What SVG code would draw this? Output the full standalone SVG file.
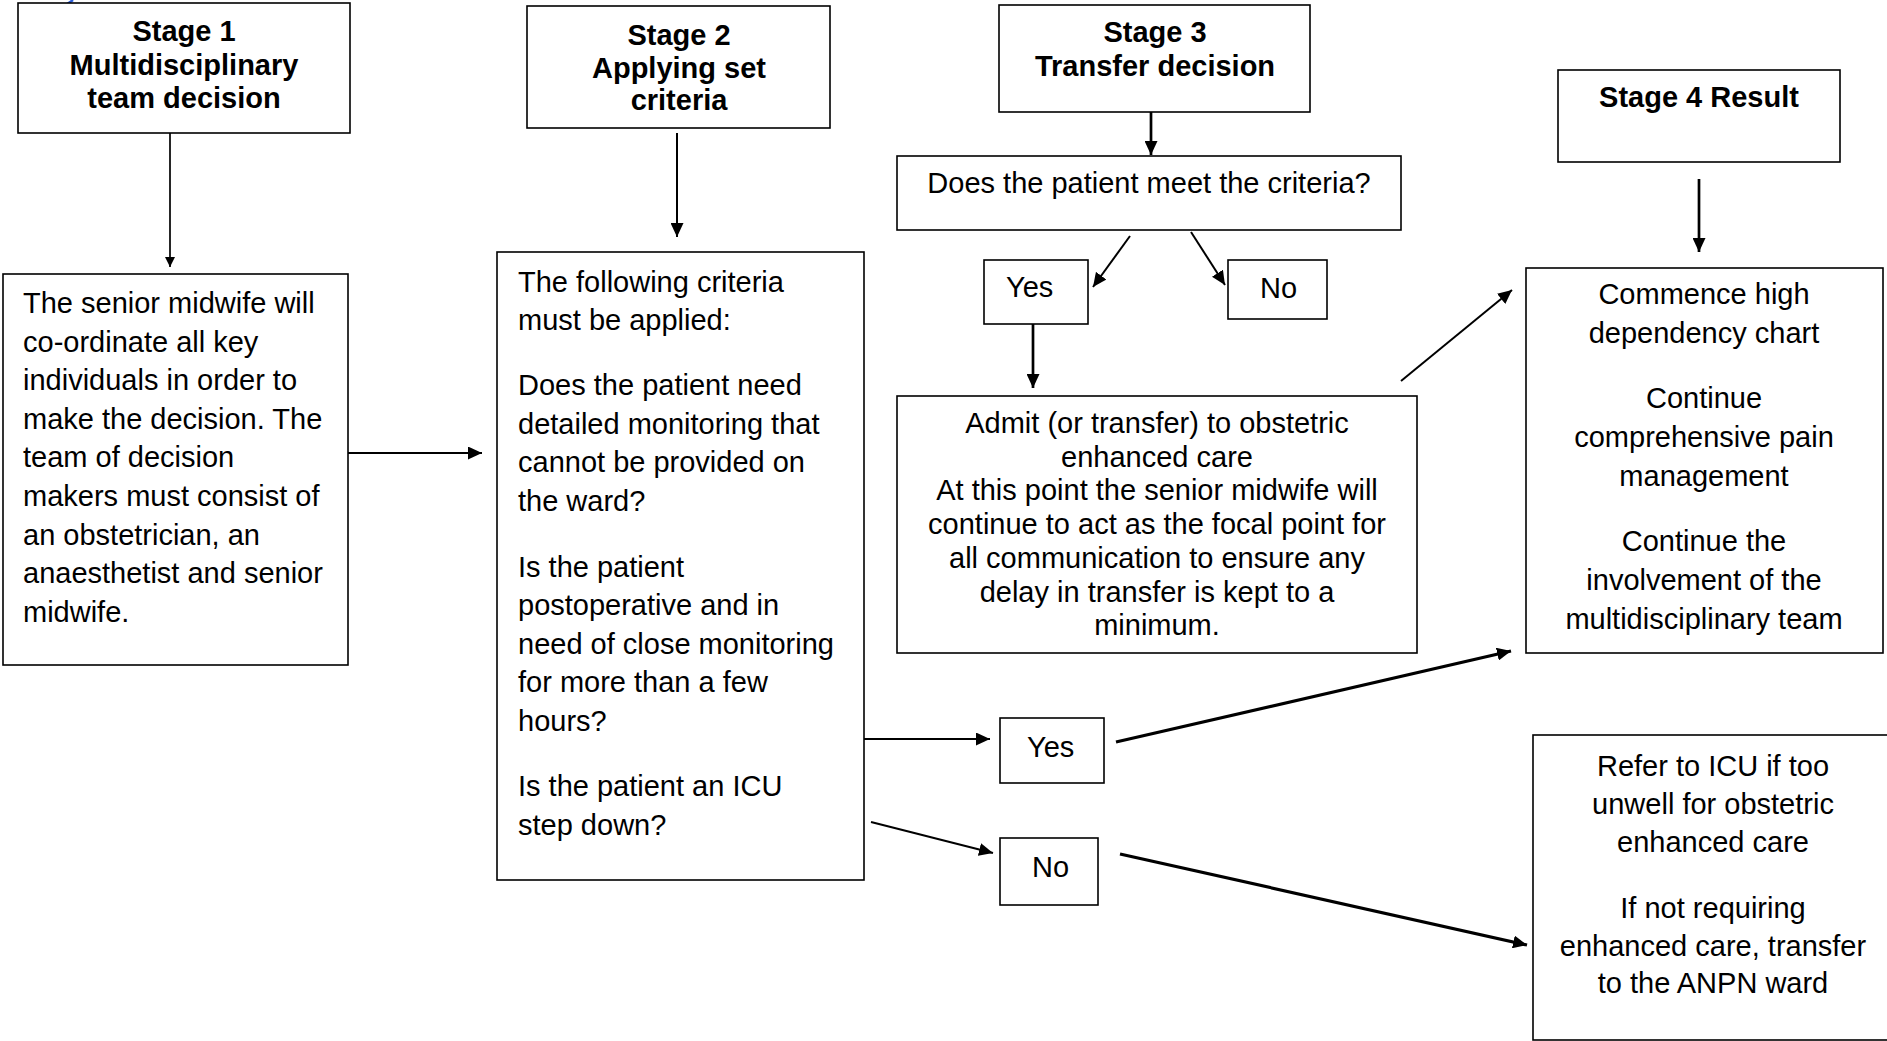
<svg xmlns="http://www.w3.org/2000/svg" width="1887" height="1041" viewBox="0 0 1887 1041">
<style>
.box{fill:#fff;stroke:#000;stroke-width:1.6}
.t{font-family:"Liberation Sans",Arial,sans-serif;font-size:29px;fill:#000}
.b{font-weight:bold}
.m{text-anchor:middle}
.c{fill:none;stroke:#000}
</style>
<defs>
<marker id="ah" markerUnits="userSpaceOnUse" markerWidth="15" markerHeight="13" refX="14" refY="6.5" orient="auto"><path d="M0,0 L14,6.5 L0,13 z" fill="#000"/></marker>
<marker id="as" markerUnits="userSpaceOnUse" markerWidth="11" markerHeight="11" refX="10" refY="5" orient="auto"><path d="M0,0 L10,5 L0,10 z" fill="#000"/></marker>
</defs>
<rect width="1887" height="1041" fill="#fff"/>
<path d="M64,6 Q69,3 73,0" fill="none" stroke="#2a5bd7" stroke-width="2.5"/>

<g id="connectors">
<line class="c" x1="170" y1="133" x2="170" y2="267" stroke-width="1.7" marker-end="url(#as)"/>
<line class="c" x1="348" y1="453" x2="482" y2="453" stroke-width="2" marker-end="url(#ah)"/>
<line class="c" x1="677" y1="133" x2="677" y2="237" stroke-width="2" marker-end="url(#ah)"/>
<line class="c" x1="1151" y1="112" x2="1151" y2="155" stroke-width="2.7" marker-end="url(#ah)"/>
<line class="c" x1="1130" y1="236" x2="1093" y2="287" stroke-width="2" marker-end="url(#ah)"/>
<line class="c" x1="1191" y1="232" x2="1225" y2="285" stroke-width="2" marker-end="url(#ah)"/>
<line class="c" x1="1033" y1="324" x2="1033" y2="388" stroke-width="2.7" marker-end="url(#ah)"/>
<line class="c" x1="1401" y1="381" x2="1512" y2="290" stroke-width="2" marker-end="url(#ah)"/>
<line class="c" x1="1699" y1="179" x2="1699" y2="252" stroke-width="2.7" marker-end="url(#ah)"/>
<line class="c" x1="864" y1="739" x2="990" y2="739" stroke-width="2" marker-end="url(#ah)"/>
<line class="c" x1="871" y1="822" x2="993" y2="853" stroke-width="2" marker-end="url(#ah)"/>
<line class="c" x1="1116" y1="742" x2="1511" y2="651" stroke-width="3.2" marker-end="url(#ah)"/>
<line class="c" x1="1120" y1="854" x2="1527" y2="945" stroke-width="3.2" marker-end="url(#ah)"/>
</g>

<g id="stage1">
<rect class="box" x="18" y="3" width="332" height="130"/>
<text class="t b m" x="184" y="41">Stage 1</text>
<text class="t b m" x="184" y="75">Multidisciplinary</text>
<text class="t b m" x="184" y="108">team decision</text>
</g>

<g id="stage1-body">
<rect class="box" x="3" y="274" width="345" height="391"/>
<text class="t" x="23" y="313">The senior midwife will</text>
<text class="t" x="23" y="352">co-ordinate all key</text>
<text class="t" x="23" y="390">individuals in order to</text>
<text class="t" x="23" y="429">make the decision. The</text>
<text class="t" x="23" y="467">team of decision</text>
<text class="t" x="23" y="506">makers must consist of</text>
<text class="t" x="23" y="545">an obstetrician, an</text>
<text class="t" x="23" y="583">anaesthetist and senior</text>
<text class="t" x="23" y="622">midwife.</text>
</g>

<g id="stage2">
<rect class="box" x="527" y="6" width="303" height="122"/>
<text class="t b m" x="679" y="45">Stage 2</text>
<text class="t b m" x="679" y="78">Applying set</text>
<text class="t b m" x="679" y="110">criteria</text>
</g>

<g id="stage2-body">
<rect class="box" x="497" y="252" width="367" height="628"/>
<text class="t" x="518" y="292">The following criteria</text>
<text class="t" x="518" y="330">must be applied:</text>
<text class="t" x="518" y="395">Does the patient need</text>
<text class="t" x="518" y="434">detailed monitoring that</text>
<text class="t" x="518" y="472">cannot be provided on</text>
<text class="t" x="518" y="511">the ward?</text>
<text class="t" x="518" y="577">Is the patient</text>
<text class="t" x="518" y="615">postoperative and in</text>
<text class="t" x="518" y="654">need of close monitoring</text>
<text class="t" x="518" y="692">for more than a few</text>
<text class="t" x="518" y="731">hours?</text>
<text class="t" x="518" y="796">Is the patient an ICU</text>
<text class="t" x="518" y="835">step down?</text>
</g>

<g id="stage3">
<rect class="box" x="999" y="5" width="311" height="107"/>
<text class="t b m" x="1155" y="42">Stage 3</text>
<text class="t b m" x="1155" y="76">Transfer decision</text>
</g>

<g id="question">
<rect class="box" x="897" y="156" width="504" height="74"/>
<text class="t m" x="1149" y="193">Does the patient meet the criteria?</text>
</g>

<g id="yes-top">
<rect class="box" x="984" y="260" width="104" height="64"/>
<text class="t" x="1006" y="297">Yes</text>
</g>

<g id="no-top">
<rect class="box" x="1228" y="260" width="99" height="59"/>
<text class="t" x="1260" y="298">No</text>
</g>

<g id="admit">
<rect class="box" x="897" y="396" width="520" height="257"/>
<text class="t m" x="1157" y="433">Admit (or transfer) to obstetric</text>
<text class="t m" x="1157" y="467">enhanced care</text>
<text class="t m" x="1157" y="500">At this point the senior midwife will</text>
<text class="t m" x="1157" y="534">continue to act as the focal point for</text>
<text class="t m" x="1157" y="568">all communication to ensure any</text>
<text class="t m" x="1157" y="602">delay in transfer is kept to a</text>
<text class="t m" x="1157" y="635">minimum.</text>
</g>

<g id="yes-bottom">
<rect class="box" x="1000" y="718" width="104" height="65"/>
<text class="t" x="1027" y="757">Yes</text>
</g>

<g id="no-bottom">
<rect class="box" x="1000" y="838" width="98" height="67"/>
<text class="t" x="1032" y="877">No</text>
</g>

<g id="stage4">
<rect class="box" x="1558" y="70" width="282" height="92"/>
<text class="t b m" x="1699" y="107">Stage 4 Result</text>
</g>

<g id="result">
<rect class="box" x="1526" y="268" width="357" height="385"/>
<text class="t m" x="1704" y="304">Commence high</text>
<text class="t m" x="1704" y="343">dependency chart</text>
<text class="t m" x="1704" y="408">Continue</text>
<text class="t m" x="1704" y="447">comprehensive pain</text>
<text class="t m" x="1704" y="486">management</text>
<text class="t m" x="1704" y="551">Continue the</text>
<text class="t m" x="1704" y="590">involvement of the</text>
<text class="t m" x="1704" y="629">multidisciplinary team</text>
</g>

<g id="icu">
<rect class="box" x="1533" y="735" width="360" height="305"/>
<text class="t m" x="1713" y="776">Refer to ICU if too</text>
<text class="t m" x="1713" y="814">unwell for obstetric</text>
<text class="t m" x="1713" y="852">enhanced care</text>
<text class="t m" x="1713" y="918">If not requiring</text>
<text class="t m" x="1713" y="956">enhanced care, transfer</text>
<text class="t m" x="1713" y="993">to the ANPN ward</text>
</g>
</svg>
